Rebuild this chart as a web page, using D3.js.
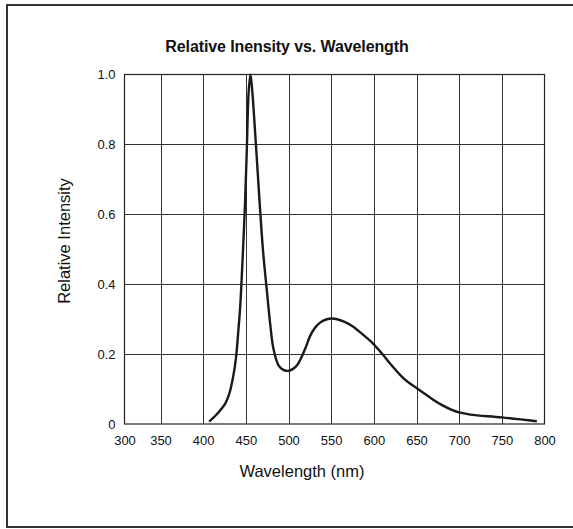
<!DOCTYPE html>
<html>
<head>
<meta charset="utf-8">
<script src="https://cdn.jsdelivr.net/npm/d3@7"></script>
<style>
  html, body { margin: 0; padding: 0; background: #fff; }
  svg { display: block; }
  text { font-family: "Liberation Sans", Arial, Helvetica, sans-serif; fill: #111; }
</style>
</head>
<body>
<svg id="chart" width="573" height="529"></svg>
<script>
// ---- Data ----
const title = "Relative Inensity vs. Wavelength";
const xTitle = "Wavelength (nm)";
const yTitle = "Relative Intensity";
const xTickValues = [300, 350, 400, 450, 500, 550, 600, 650, 700, 750, 800];
const yTickValues = [0, 0.2, 0.4, 0.6, 0.8, 1.0];
const yTickLabels = ["0", "0.2", "0.4", "0.6", "0.8", "1.0"];
const wavelength = [407, 416, 426, 431, 435.5, 438.5, 441, 443.4, 445.4, 447.3, 449.2, 451.2, 453.3, 455.4, 457.6, 461.8, 466, 470, 474.7, 478.6, 482.4, 488.3, 494, 500, 505, 510, 515, 520, 525, 530, 537, 544, 551, 558, 565, 575, 590, 600, 610, 620, 631, 640, 650, 660, 670, 680, 690, 700, 713, 750, 791];
const intensity  = [0.007, 0.028, 0.059, 0.09, 0.14, 0.19, 0.26, 0.336, 0.43, 0.53, 0.64, 0.79, 0.95, 1.0, 0.95, 0.80, 0.64, 0.50, 0.38, 0.285, 0.215, 0.168, 0.155, 0.152, 0.157, 0.168, 0.19, 0.218, 0.25, 0.272, 0.29, 0.299, 0.302, 0.299, 0.293, 0.28, 0.25, 0.228, 0.2, 0.17, 0.14, 0.12, 0.103, 0.086, 0.069, 0.054, 0.042, 0.033, 0.027, 0.019, 0.008];

// ---- Layout ----
const svg = d3.select("#chart");
const plot = { left: 124.5, right: 544.5, top: 74.5, bottom: 424 };

// outer frame
svg.append("rect")
  .attr("x", 7).attr("y", 5).attr("width", 590).attr("height", 522)
  .attr("fill", "none").attr("stroke", "#333").attr("stroke-width", 2);

// x scale: first interval is compressed in the original
const x = d3.scaleLinear()
  .domain([300, 350, 800])
  .range([plot.left, 160.5, plot.right]);
const y = d3.scaleLinear()
  .domain([0, 1])
  .range([plot.bottom, plot.top]);

const g = svg.append("g");

// grid
g.selectAll("line.vgrid")
  .data(xTickValues.slice(1, -1))
  .join("line")
  .attr("class", "vgrid")
  .attr("x1", d => Math.round(x(d)) + 0.5).attr("x2", d => Math.round(x(d)) + 0.5)
  .attr("y1", plot.top).attr("y2", plot.bottom)
  .attr("stroke", "#333").attr("stroke-width", 1);
g.selectAll("line.hgrid")
  .data(yTickValues.slice(1, -1))
  .join("line")
  .attr("class", "hgrid")
  .attr("x1", plot.left).attr("x2", plot.right)
  .attr("y1", d => Math.round(y(d)) + 0.5).attr("y2", d => Math.round(y(d)) + 0.5)
  .attr("stroke", "#333").attr("stroke-width", 1);

// plot border
g.append("rect")
  .attr("x", plot.left).attr("y", plot.top)
  .attr("width", plot.right - plot.left).attr("height", plot.bottom - plot.top)
  .attr("fill", "none").attr("stroke", "#222").attr("stroke-width", 1.2);

// axes (labels only)
const xAxis = d3.axisBottom(x).tickValues(xTickValues).tickSize(0).tickPadding(12).tickFormat(d3.format("d"));
svg.append("g")
  .attr("transform", `translate(0,${plot.bottom})`)
  .call(xAxis)
  .call(s => s.select(".domain").remove())
  .call(s => s.selectAll("text").attr("font-size", 13).attr("fill", "#111")
    .attr("font-family", "'Liberation Sans', Arial, sans-serif"));

const yAxis = d3.axisLeft(y).tickValues(yTickValues).tickSize(0).tickPadding(9)
  .tickFormat((d, i) => yTickLabels[i]);
svg.append("g")
  .attr("transform", `translate(${plot.left},0)`)
  .call(yAxis)
  .call(s => s.select(".domain").remove())
  .call(s => s.selectAll("text").attr("font-size", 13).attr("fill", "#111")
    .attr("font-family", "'Liberation Sans', Arial, sans-serif"));

// curve
const pts = wavelength.map((w, i) => [w, intensity[i]]);
const line = d3.line()
  .x(d => x(d[0]))
  .y(d => y(d[1]))
  .curve(d3.curveCatmullRom.alpha(0.5));
g.append("path")
  .datum(pts)
  .attr("d", line)
  .attr("fill", "none")
  .attr("stroke", "#1a1a1a")
  .attr("stroke-width", 2.4)
  .attr("stroke-linejoin", "round")
  .attr("stroke-linecap", "butt");

// titles
svg.append("text")
  .attr("x", 287).attr("y", 52)
  .attr("text-anchor", "middle")
  .attr("font-size", 16).attr("font-weight", "bold")
  .attr("letter-spacing", -0.1)
  .text(title);

svg.append("text")
  .attr("x", 302).attr("y", 477)
  .attr("text-anchor", "middle")
  .attr("font-size", 16.5)
  .text(xTitle);

svg.append("text")
  .attr("transform", "translate(70,241) rotate(-90)")
  .attr("text-anchor", "middle")
  .attr("font-size", 16.5)
  .text(yTitle);
</script>
</body>
</html>
